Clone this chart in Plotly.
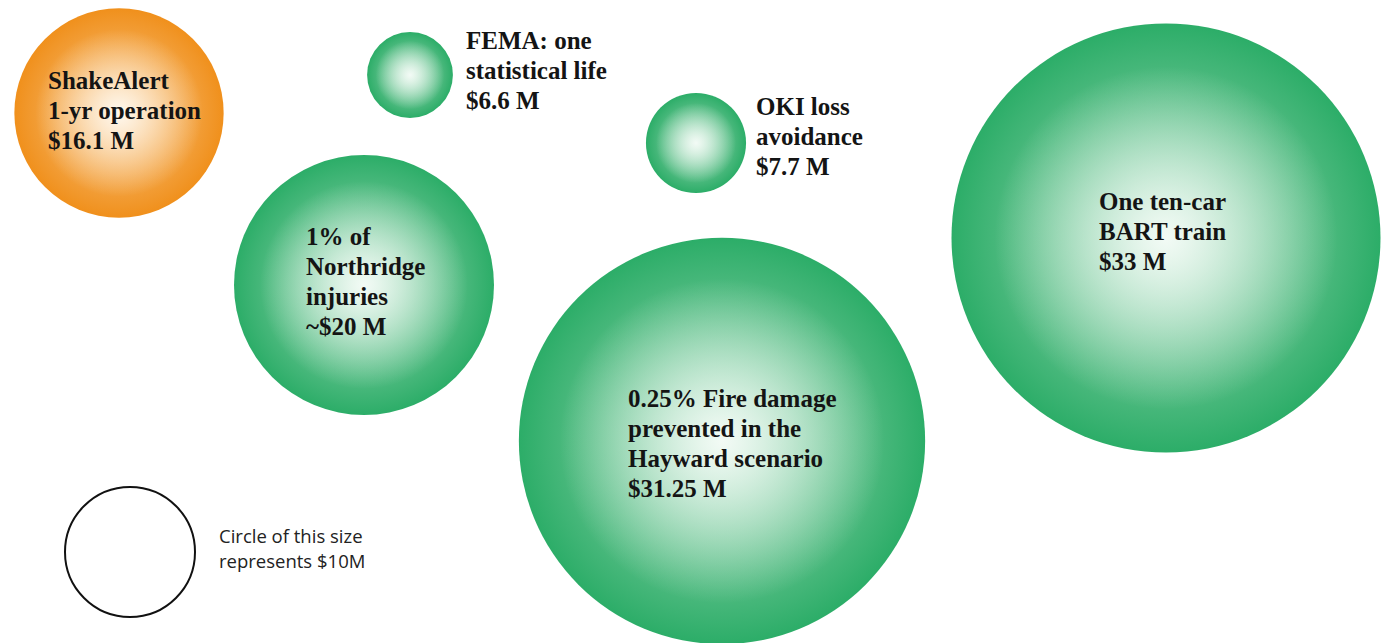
import plotly.graph_objects as go

# ---- data ----
names = ["ShakeAlert", "FEMA", "OKI", "Northridge", "Fire", "BART"]
values_musd = [16.1, 6.6, 7.7, 20, 31.25, 33]
label_lines = [
    ["ShakeAlert", "1-yr operation", "$16.1 M"],
    ["FEMA: one", "statistical life", "$6.6 M"],
    ["OKI loss", "avoidance", "$7.7 M"],
    ["1% of", "Northridge", "injuries", "~$20 M"],
    ["0.25% Fire damage", "prevented in the", "Hayward scenario", "$31.25 M"],
    ["One ten-car", "BART train", "$33 M"],
]
reference_value = 10
reference_lines = ["Circle of this size", "represents $10M"]

# ---- layout positions (pixel-like coordinates of the canvas) ----
bubble_x = [119, 410, 696, 364, 722, 1166]
bubble_y = [113, 75, 143, 285, 441, 238]
label_x = [46, 464, 754, 304, 626, 1097]
label_top_y = [80, 40, 106, 236, 398, 201]
ref_x, ref_y = 130, 552
ref_label_x, ref_label_top_y = 217, 535

# ---- styles ----
edge_colors = ["#f0901c"] + ["#2cad68"] * 5
mid_colors = ["#f9cb92"] + ["#acdec0"] * 5
glow_edge = ["rgba(255,246,232,0)"] + ["rgba(242,250,245,0)"] * 5
glow_center = ["rgba(255,250,242,0.95)"] + ["rgba(246,252,248,0.95)"] * 5
px_per_musd = 13.0
glow_fraction = 0.8
line_gap = 30

fig = go.Figure()
fig.add_trace(go.Scatter(
    x=bubble_x, y=bubble_y, mode="markers",
    marker=dict(size=values_musd, sizemode="diameter", sizeref=1 / px_per_musd,
                color=edge_colors, opacity=1, line=dict(width=0),
                gradient=dict(type="radial", color=mid_colors)),
    hoverinfo="skip", showlegend=False,
))
fig.add_trace(go.Scatter(
    x=bubble_x, y=bubble_y, mode="markers",
    marker=dict(size=values_musd, sizemode="diameter",
                sizeref=1 / (px_per_musd * glow_fraction),
                color=glow_edge, opacity=1, line=dict(width=0),
                gradient=dict(type="radial", color=glow_center)),
    hoverinfo="skip", showlegend=False,
))
fig.add_trace(go.Scatter(
    x=[ref_x], y=[ref_y], mode="markers",
    marker=dict(size=[reference_value], sizemode="diameter", sizeref=1 / px_per_musd,
                color="rgba(255,255,255,0)", opacity=1, line=dict(width=2, color="#111111")),
    hoverinfo="skip", showlegend=False,
))

annotations = []
for lines, lx, ly in zip(label_lines, label_x, label_top_y):
    for i, t in enumerate(lines):
        annotations.append(dict(
            x=lx, y=ly + i * line_gap, xref="x", yref="y", text="<b>" + t + "</b>",
            showarrow=False, xanchor="left", yanchor="middle",
            font=dict(family="Liberation Serif, Times New Roman, serif", size=25, color="#141414"),
        ))
for i, t in enumerate(reference_lines):
    annotations.append(dict(
        x=ref_label_x, y=ref_label_top_y + i * 25, xref="x", yref="y", text=t,
        showarrow=False, xanchor="left", yanchor="middle",
        font=dict(family="Open Sans, sans-serif", size=18.5, color="#222222"),
    ))

fig.update_layout(
    width=1390, height=643, margin=dict(l=0, r=0, t=0, b=0),
    paper_bgcolor="white", plot_bgcolor="white",
    xaxis=dict(range=[0, 1390], visible=False, fixedrange=True),
    yaxis=dict(range=[643, 0], visible=False, fixedrange=True),
    annotations=annotations,
)
fig.write_html("out.html", config={"displayModeBar": False},
               post_script="document.body.style.margin='0';document.body.style.overflow='hidden';")
